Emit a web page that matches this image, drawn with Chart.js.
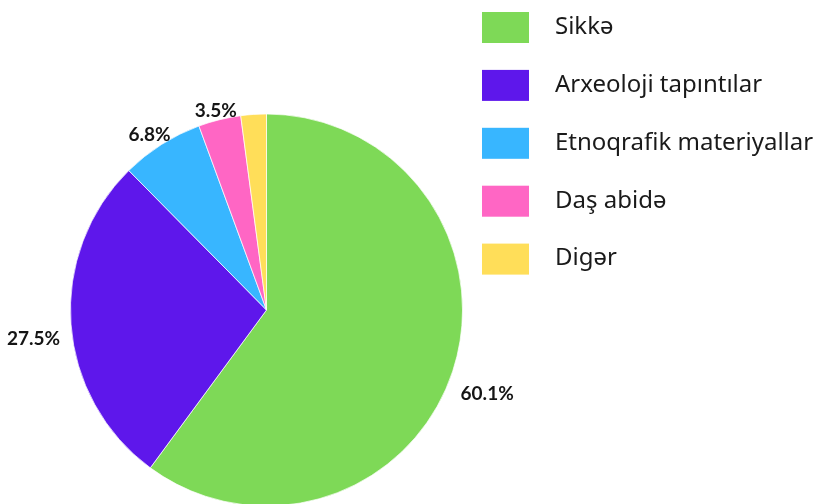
<!DOCTYPE html>
<html>
<head>
<meta charset="utf-8">
<script src="https://cdn.jsdelivr.net/npm/chart.js@4"></script>
<style>
  html, body { margin: 0; padding: 0; background: #fff; overflow: hidden; }
  #wrap { width: 824px; height: 504px; overflow: hidden; }
</style>
</head>
<body>
<div id="wrap"><canvas id="pie" width="824" height="520"></canvas></div>
<script>
const categories = ['Sikkə', 'Arxeoloji tapıntılar', 'Etnoqrafik materiyallar', 'Daş abidə', 'Digər']
const shares = [60.1, 27.5, 6.8, 3.5, 2.1]
const showLabel = [true, true, true, true, false]
const colors = ['#7ed957', '#5e17eb', '#38b6ff', '#ff66c4', '#ffde59']

// percent labels outside the slices
const outerLabels = {
  id: 'outerLabels',
  afterDatasetsDraw(chart) {
    const ctx = chart.ctx
    const meta = chart.getDatasetMeta(0)
    ctx.save()
    ctx.font = 'bold 19px Lato'
    ctx.fillStyle = '#151515'
    ctx.textAlign = 'center'
    ctx.textBaseline = 'middle'
    meta.data.forEach(function (arc, i) {
      if (!showLabel[i]) return
      const mid = (arc.startAngle + arc.endAngle) / 2
      const ux = Math.cos(mid), uy = Math.sin(mid)
      const txt = shares[i] + '%'
      const w = ctx.measureText(txt).width
      const d = arc.outerRadius + 11 + Math.abs(ux) * w / 2
      // labels sit a bit lower than the radial line
      const drop = 5 + 7 * Math.abs(ux)
      ctx.fillText(txt, arc.x + ux * d, arc.y + uy * d + drop)
    })
    ctx.restore()
  }
}

// legend on the right, big squares
const sideLegend = {
  id: 'sideLegend',
  afterDraw(chart) {
    const ctx = chart.ctx
    ctx.save()
    ctx.font = '24px "Noto Sans"'
    ctx.textBaseline = 'middle'
    ctx.textAlign = 'left'
    for (let i = 0; i < categories.length; i++) {
      const y = 12 + i * 57.9
      ctx.fillStyle = colors[i]
      ctx.fillRect(482, y, 47, 31)
      ctx.fillStyle = '#1a1a1a'
      ctx.fillText(categories[i], 555, y + 15)
    }
    ctx.restore()
  }
}

const ctx = document.getElementById('pie').getContext('2d')
const myChart = new Chart(ctx, {
  type: 'pie',
  data: {
    labels: categories,
    datasets: [{
      data: shares,
      backgroundColor: colors,
      borderColor: 'rgba(255,255,255,0.7)',
      borderWidth: 1
    }]
  },
  options: {
    responsive: false,
    animation: false,
    devicePixelRatio: 1,
    layout: { padding: { left: 70, right: 361, top: 113, bottom: 13 } },
    plugins: {
      legend: { display: false },
      tooltip: { enabled: false }
    }
  },
  plugins: [outerLabels, sideLegend]
})
</script>
</body>
</html>
